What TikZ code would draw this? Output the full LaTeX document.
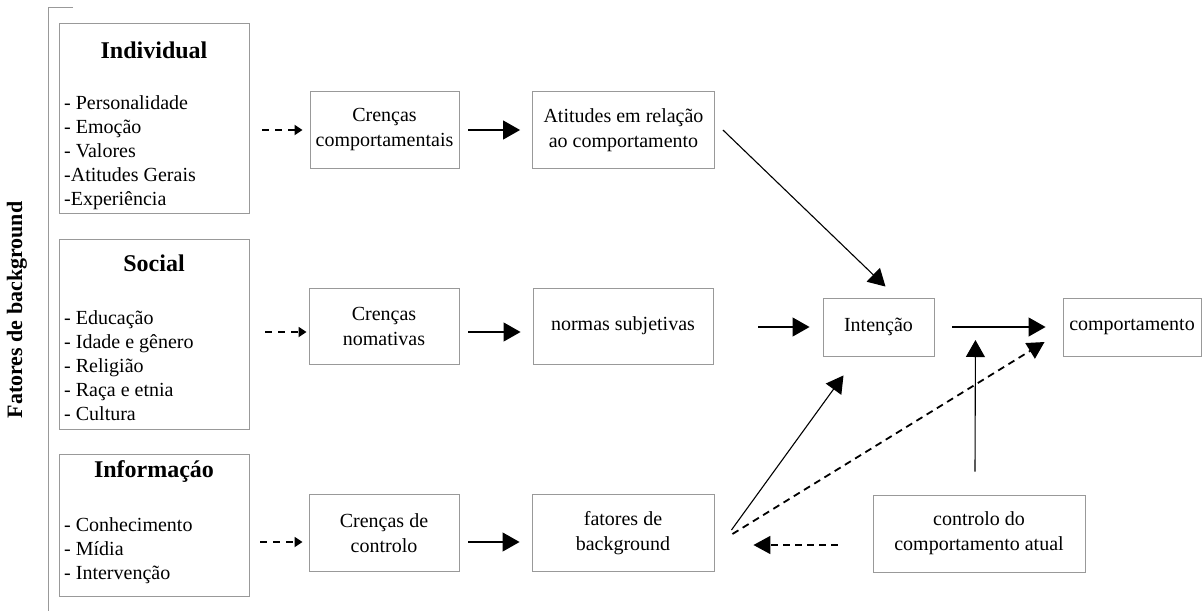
\documentclass[tikz,border=0pt]{standalone}
\usepackage{fontspec}
\setmainfont{Liberation Serif}
\usetikzlibrary{arrows.meta,calc}
\begin{document}
\begin{tikzpicture}[x=1pt,y=-1pt,
  box/.style={draw=black!40, line width=0.9pt, inner sep=0pt, align=center,
    font=\fontsize{20}{25}\selectfont},
  ttl/.style={inner sep=0pt, font=\fontsize{24}{28}\selectfont\bfseries},
  lst/.style={inner sep=0pt, anchor=west, align=left, font=\fontsize{20}{24}\selectfont},
  solidarr/.style={line width=1.1pt, -{Triangle[length=17pt,width=19pt]}},
  dasharr/.style={line width=1.8pt, dash pattern=on 7pt off 5pt, -{Triangle[length=17pt,width=18pt]}},
  smalldash/.style={line width=1.8pt, dash pattern=on 7pt off 6pt, -{Triangle[length=8pt,width=10pt]}},
  bracket/.style={draw=black!40, line width=0.9pt}
]
\useasboundingbox (0,0) rectangle (1203,611);

% left bracket and vertical label
\draw[bracket] (73,7) -- (48,7) -- (48,611);
\node[rotate=90, inner sep=0pt, font=\fontsize{22}{26}\selectfont\bfseries] (lbl) at (17,310) {Fatores de background};

% left column boxes
\node[box, minimum width=190pt, minimum height=190pt] (ind) at (154,118) {};
\node[ttl] (indt) at (154,50) {Individual};
\node[lst] (indl) at (64,153) {- Personalidade\\- Emoção\\- Valores\\-Atitudes Gerais\\-Experiência};

\node[box, minimum width=190pt, minimum height=190pt] (soc) at (154,334) {};
\node[ttl] (soct) at (154,263) {Social};
\node[lst] (socl) at (64,366) {- Educação\\- Idade e gênero\\- Religião\\- Raça e etnia\\- Cultura};

\node[box, minimum width=190pt, minimum height=142pt] (inf) at (154,525) {};
\node[ttl] (inft) at (154,472) {Informaçáo};
\node[lst] (infl) at (64,551) {- Conhecimento\\- Mídia\\- Intervenção};

% middle boxes
\node[box, minimum width=149pt, minimum height=77pt] (cc) at (384.5,130) {Crenças\\comportamentais};
\node[box, minimum width=182pt, minimum height=77pt] (at) at (623.5,130) {Atitudes em relação\\ao comportamento};
\node[box, minimum width=150pt, minimum height=76pt] (cn) at (384,326) {Crenças\\nomativas};
\node[box, minimum width=180pt, minimum height=76pt] (ns) at (623,326) {normas subjetivas};
\node[box, minimum width=150pt, minimum height=77pt] (ccon) at (384,533) {Crenças de\\controlo};
\node[box, minimum width=182pt, minimum height=77pt] (fb) at (623,533) {fatores de\\background};

% right boxes
\node[box, minimum width=111pt, minimum height=58pt] (int) at (878.5,327) {Intenção};
\node[box, minimum width=138pt, minimum height=58pt] (comp) at (1132,327) {comportamento};
\node[box, minimum width=212pt, minimum height=77pt] (ctrl) at (979,533.5) {controlo do\\comportamento atual};

% dashed small arrows from left column
\draw[smalldash, shorten <=13pt, shorten >=7pt] (ind.east |- cc.west) -- (cc.west);
\draw[smalldash, shorten <=16pt, shorten >=2pt] ($(soc.east |- cn.west)+(0,6)$) -- ($(cn.west)+(0,6)$);
\draw[smalldash, shorten <=11pt, shorten >=6pt] ($(inf.east |- ccon.west)+(0,9)$) -- ($(ccon.west)+(0,9)$);

% solid row arrows
\draw[solidarr, shorten <=9pt, shorten >=12pt] (cc.east) -- (at.west);
\draw[solidarr, shorten <=9pt, shorten >=12pt] ($(cn.east)+(0,6)$) -- ($(ns.west)+(0,6)$);
\draw[solidarr, shorten <=9pt, shorten >=12pt] ($(ccon.east)+(0,9)$) -- ($(fb.west)+(0,9)$);
\draw[solidarr, shorten <=45pt, shorten >=13pt] (ns.east |- int.west) -- (int.west);
\draw[solidarr, shorten <=18pt, shorten >=17pt] (int.east) -- (comp.west);

% diagonal arrows into Intenção
\draw[solidarr] ($(at.east)+(8,0)$) -- ($(int.north)+(7,-11)$);
\draw[solidarr] ($(fb.east)+(17,-3)$) -- ($(int.south)+(-35,19)$);

% control arrows
\draw[solidarr] ($(ctrl.north)+(-4,-23)$) -- ($(int.east)+(41,13)$);
\draw[dasharr] ($(fb.east)+(18,1)$) -- ($(comp.west)+(-18,15)$);
\draw[dasharr] ($(ctrl.west)+(-35,11.5)$) -- ($(fb.east)+(39,12)$);
\end{tikzpicture}
\end{document}
